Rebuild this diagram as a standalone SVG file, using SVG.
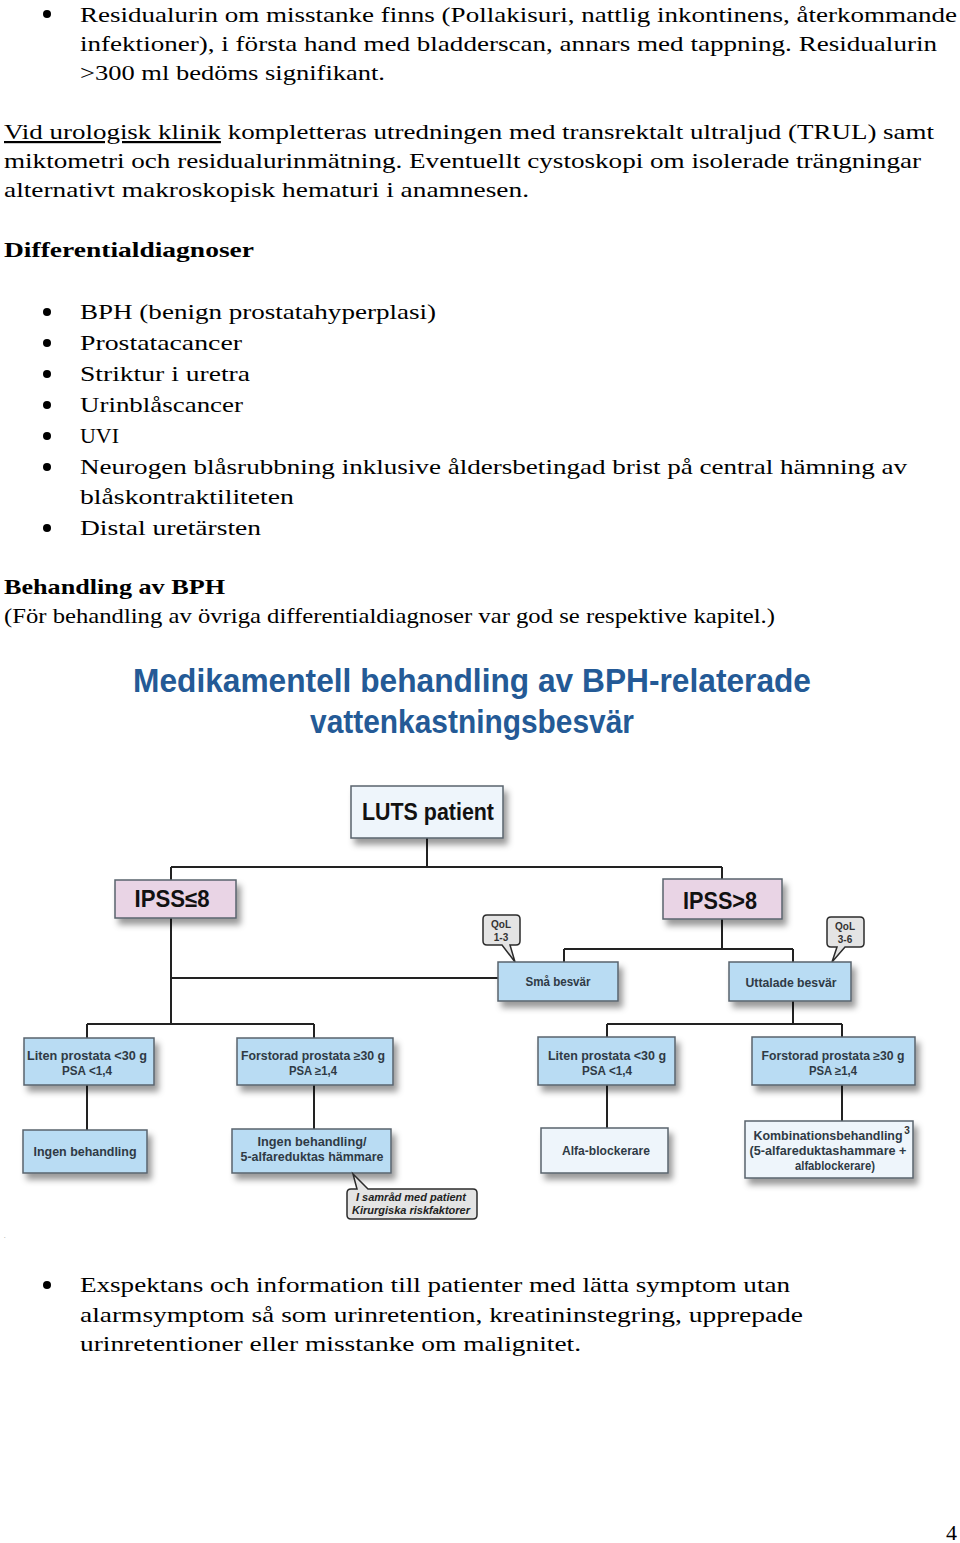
<svg xmlns="http://www.w3.org/2000/svg" width="960" height="1543" viewBox="0 0 960 1543">
<defs>
<style>
.t{font-family:"Liberation Serif","Times New Roman",serif;font-size:22px;fill:#000}
.b{font-weight:bold}
.ttl{font-family:"Liberation Sans",Arial,sans-serif;font-weight:bold;font-size:34px;fill:#245a96}
.big{font-family:"Liberation Sans",Arial,sans-serif;font-weight:bold;font-size:23px;fill:#111}
.sm{font-family:"Liberation Sans",Arial,sans-serif;font-weight:bold;font-size:12px;fill:#2f3a45}
.q{font-family:"Liberation Sans",Arial,sans-serif;font-weight:bold;font-size:10px;fill:#333}
.it{font-family:"Liberation Sans",Arial,sans-serif;font-weight:bold;font-style:italic;font-size:11px;fill:#222}
.box{stroke:#59636d;stroke-width:1.5}
.blue{fill:#b9dcf3}
.pink{fill:#e9d4e5}
.pale{fill:#eef5fb}
.bub{fill:#e4e4e4;stroke:#2b2b2b;stroke-width:1.5}
.ln{fill:none;stroke:#222;stroke-width:2}
</style>
<filter id="sh" x="-20%" y="-30%" width="150%" height="180%">
<feDropShadow dx="4" dy="6" stdDeviation="3" flood-color="#000" flood-opacity="0.4"/>
</filter>
</defs>
<rect width="960" height="1543" fill="#fff"/>

<g id="text-top">
<circle cx="47" cy="14" r="4"/>
<text class="t" x="80" y="22" textLength="877" lengthAdjust="spacingAndGlyphs">Residualurin om misstanke finns (Pollakisuri, nattlig inkontinens, återkommande</text>
<text class="t" x="80" y="51" textLength="857" lengthAdjust="spacingAndGlyphs">infektioner), i första hand med bladderscan, annars med tappning. Residualurin</text>
<text class="t" x="80" y="80" textLength="305" lengthAdjust="spacingAndGlyphs">&gt;300 ml bedöms signifikant.</text>
<text class="t" x="4" y="139" textLength="930" lengthAdjust="spacingAndGlyphs"><tspan text-decoration="underline">Vid urologisk klinik</tspan> kompletteras utredningen med transrektalt ultraljud (TRUL) samt</text>
<text class="t" x="4" y="168" textLength="917" lengthAdjust="spacingAndGlyphs">miktometri och residualurinmätning. Eventuellt cystoskopi om isolerade trängningar</text>
<text class="t" x="4" y="197" textLength="525" lengthAdjust="spacingAndGlyphs">alternativt makroskopisk hematuri i anamnesen.</text>
<text class="t b" x="4" y="257" textLength="250" lengthAdjust="spacingAndGlyphs">Differentialdiagnoser</text>
<circle cx="47" cy="312" r="4"/>
<text class="t" x="80" y="319" textLength="356" lengthAdjust="spacingAndGlyphs">BPH (benign prostatahyperplasi)</text>
<circle cx="47" cy="343" r="4"/>
<text class="t" x="80" y="350" textLength="162" lengthAdjust="spacingAndGlyphs">Prostatacancer</text>
<circle cx="47" cy="374" r="4"/>
<text class="t" x="80" y="381" textLength="170" lengthAdjust="spacingAndGlyphs">Striktur i uretra</text>
<circle cx="47" cy="405" r="4"/>
<text class="t" x="80" y="412" textLength="163" lengthAdjust="spacingAndGlyphs">Urinblåscancer</text>
<circle cx="47" cy="436" r="4"/>
<text class="t" x="80" y="443" textLength="39" lengthAdjust="spacingAndGlyphs">UVI</text>
<circle cx="47" cy="467" r="4"/>
<text class="t" x="80" y="474" textLength="827" lengthAdjust="spacingAndGlyphs">Neurogen blåsrubbning inklusive åldersbetingad brist på central hämning av</text>
<text class="t" x="80" y="504" textLength="214" lengthAdjust="spacingAndGlyphs">blåskontraktiliteten</text>
<circle cx="47" cy="528" r="4"/>
<text class="t" x="80" y="535" textLength="181" lengthAdjust="spacingAndGlyphs">Distal uretärsten</text>
<text class="t b" x="4" y="594" textLength="221" lengthAdjust="spacingAndGlyphs">Behandling av BPH</text>
<text class="t" x="4" y="623" textLength="771" lengthAdjust="spacingAndGlyphs">(För behandling av övriga differentialdiagnoser var god se respektive kapitel.)</text>
</g>

<g id="title">
<text class="ttl" x="133" y="692" textLength="678" lengthAdjust="spacingAndGlyphs">Medikamentell behandling av BPH-relaterade</text>
<text class="ttl" x="310" y="733" textLength="324" lengthAdjust="spacingAndGlyphs">vattenkastningsbesvär</text>
</g>

<g id="connectors">
<path class="ln" d="M427,838 V867 M171,867 H722 M171,867 V880 M722,867 V879"/>
<path class="ln" d="M171,918 V1024 M87,1024 H314 M87,1024 V1038 M314,1024 V1038"/>
<path class="ln" d="M171,978 H498"/>
<path class="ln" d="M722,919 V949 M564,949 H793 M564,949 V962 M793,949 V962"/>
<path class="ln" d="M793,1001 V1024 M607,1024 H842 M607,1024 V1037 M842,1024 V1037"/>
<path class="ln" d="M87,1085 V1130 M314,1085 V1129 M607,1085 V1128 M842,1085 V1121"/>
</g>

<g id="luts"><rect class="box pale" x="351" y="786" width="152" height="52" filter="url(#sh)"/>
<text class="big" x="428" y="820" text-anchor="middle" textLength="132" lengthAdjust="spacingAndGlyphs">LUTS patient</text></g>

<g id="ipss-low"><rect class="box pink" x="115" y="880" width="121" height="38" filter="url(#sh)"/>
<text class="big" x="172" y="907" text-anchor="middle" textLength="75" lengthAdjust="spacingAndGlyphs">IPSS≤8</text></g>

<g id="ipss-high"><rect class="box pink" x="663" y="879" width="119" height="40" filter="url(#sh)"/>
<text class="big" x="720" y="909" text-anchor="middle" textLength="74" lengthAdjust="spacingAndGlyphs">IPSS&gt;8</text></g>

<g id="qol13"><path class="bub" d="M487,915 H516 Q520,915 520,919 V941 Q520,945 516,945 H510 L515,962 L502,945 H487 Q483,945 483,941 V919 Q483,915 487,915 Z"/>
<text class="q" x="501" y="928" text-anchor="middle">QoL</text>
<text class="q" x="501" y="941" text-anchor="middle">1-3</text></g>

<g id="qol36"><path class="bub" d="M831,917 H860 Q864,917 864,921 V943 Q864,947 860,947 H845 L832,962 L837,947 H831 Q827,947 827,943 V921 Q827,917 831,917 Z"/>
<text class="q" x="845" y="930" text-anchor="middle">QoL</text>
<text class="q" x="845" y="943" text-anchor="middle">3-6</text></g>

<g id="sma"><rect class="box blue" x="498" y="962" width="120" height="39" filter="url(#sh)"/>
<text class="sm" x="558" y="986" text-anchor="middle" textLength="65" lengthAdjust="spacingAndGlyphs">Små besvär</text></g>

<g id="uttalade"><rect class="box blue" x="729" y="962" width="122" height="39" filter="url(#sh)"/>
<text class="sm" x="791" y="987" text-anchor="middle" textLength="91" lengthAdjust="spacingAndGlyphs">Uttalade besvär</text></g>

<g id="liten-l"><rect class="box blue" x="24" y="1038" width="130" height="47" filter="url(#sh)"/>
<text class="sm" x="87" y="1060" text-anchor="middle" textLength="120" lengthAdjust="spacingAndGlyphs">Liten prostata &lt;30 g</text>
<text class="sm" x="87" y="1075" text-anchor="middle" textLength="50" lengthAdjust="spacingAndGlyphs">PSA &lt;1,4</text></g>

<g id="forst-l"><rect class="box blue" x="237" y="1038" width="156" height="47" filter="url(#sh)"/>
<text class="sm" x="313" y="1060" text-anchor="middle" textLength="144" lengthAdjust="spacingAndGlyphs">Forstorad prostata ≥30 g</text>
<text class="sm" x="313" y="1075" text-anchor="middle" textLength="48" lengthAdjust="spacingAndGlyphs">PSA ≥1,4</text></g>

<g id="liten-r"><rect class="box blue" x="538" y="1037" width="137" height="48" filter="url(#sh)"/>
<text class="sm" x="607" y="1060" text-anchor="middle" textLength="118" lengthAdjust="spacingAndGlyphs">Liten prostata &lt;30 g</text>
<text class="sm" x="607" y="1075" text-anchor="middle" textLength="50" lengthAdjust="spacingAndGlyphs">PSA &lt;1,4</text></g>

<g id="forst-r"><rect class="box blue" x="752" y="1037" width="163" height="48" filter="url(#sh)"/>
<text class="sm" x="833" y="1060" text-anchor="middle" textLength="143" lengthAdjust="spacingAndGlyphs">Forstorad prostata ≥30 g</text>
<text class="sm" x="833" y="1075" text-anchor="middle" textLength="48" lengthAdjust="spacingAndGlyphs">PSA ≥1,4</text></g>

<g id="ingen"><rect class="box blue" x="23" y="1130" width="124" height="43" filter="url(#sh)"/>
<text class="sm" x="85" y="1156" text-anchor="middle" textLength="103" lengthAdjust="spacingAndGlyphs">Ingen behandling</text></g>

<g id="ingen-5ari"><rect class="box blue" x="232" y="1129" width="159" height="44" filter="url(#sh)"/>
<text class="sm" x="312" y="1146" text-anchor="middle" textLength="109" lengthAdjust="spacingAndGlyphs">Ingen behandling/</text>
<text class="sm" x="312" y="1161" text-anchor="middle" textLength="143" lengthAdjust="spacingAndGlyphs">5-alfareduktas hämmare</text></g>

<g id="samrad"><path class="bub" d="M351,1189 H357 L353,1174 L368,1189 H473 Q477,1189 477,1193 V1215 Q477,1219 473,1219 H351 Q347,1219 347,1215 V1193 Q347,1189 351,1189 Z"/>
<text class="it" x="411" y="1201" text-anchor="middle" textLength="110" lengthAdjust="spacingAndGlyphs">I samråd med patient</text>
<text class="it" x="411" y="1214" text-anchor="middle" textLength="118" lengthAdjust="spacingAndGlyphs">Kirurgiska riskfaktorer</text></g>

<g id="alfa"><rect class="box pale" x="541" y="1128" width="127" height="45" filter="url(#sh)"/>
<text class="sm" x="606" y="1155" text-anchor="middle" textLength="88" lengthAdjust="spacingAndGlyphs">Alfa-blockerare</text></g>

<g id="kombi"><rect class="box pale" x="745" y="1121" width="168" height="57" filter="url(#sh)"/>
<text class="sm" x="828" y="1140" text-anchor="middle" textLength="149" lengthAdjust="spacingAndGlyphs">Kombinationsbehandling</text>
<text class="q" x="907" y="1134" font-size="7" text-anchor="middle">3</text>
<text class="sm" x="828" y="1155" text-anchor="middle" textLength="157" lengthAdjust="spacingAndGlyphs">(5-alfareduktashammare +</text>
<text class="sm" x="835" y="1170" text-anchor="middle" textLength="80" lengthAdjust="spacingAndGlyphs">alfablockerare)</text></g>

<g id="text-bottom">
<text x="4" y="1238" font-family="Liberation Serif, serif" font-size="6" fill="#888">.</text>
<circle cx="47" cy="1285" r="4"/>
<text class="t" x="80" y="1292" textLength="710" lengthAdjust="spacingAndGlyphs">Exspektans och information till patienter med lätta symptom utan</text>
<text class="t" x="80" y="1322" textLength="723" lengthAdjust="spacingAndGlyphs">alarmsymptom så som urinretention, kreatininstegring, upprepade</text>
<text class="t" x="80" y="1351" textLength="501" lengthAdjust="spacingAndGlyphs">urinretentioner eller misstanke om malignitet.</text>
<text class="t" x="946" y="1540">4</text>
</g>
</svg>
